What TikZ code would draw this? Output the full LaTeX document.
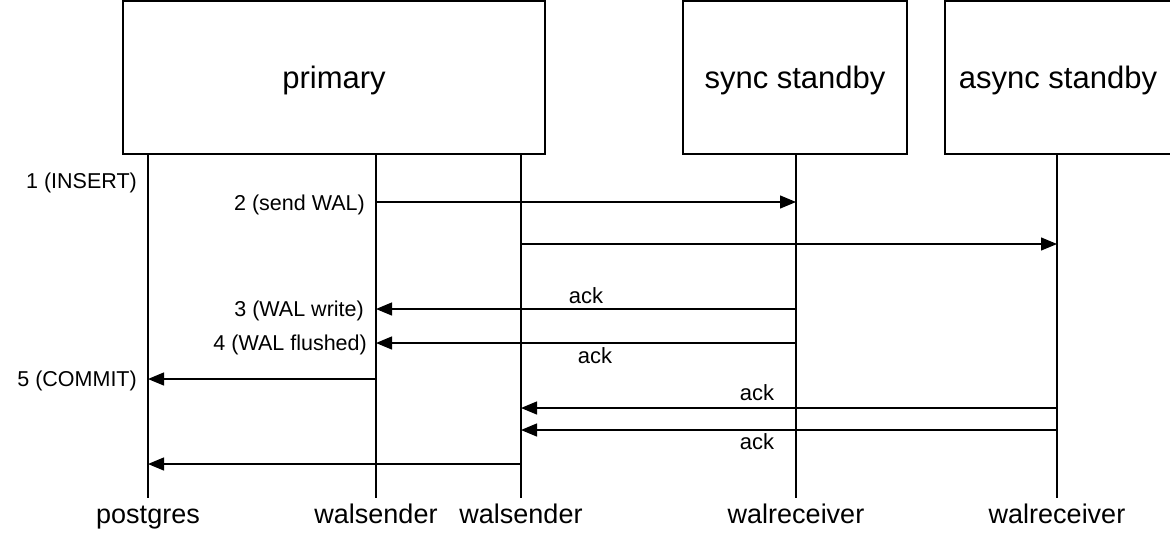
\documentclass[tikz,border=0pt]{standalone}
\usepackage{fontspec}
\setmainfont{Liberation Sans}
\usetikzlibrary{calc}
\usetikzlibrary{arrows.meta}

\begin{document}
\begin{tikzpicture}[x=1pt,y=-1pt,
	box/.style={draw, line width=1.6pt, inner sep=0pt, text depth=0pt, font=\fontsize{31}{36}\selectfont},
	life/.style={line width=1.3pt},
	msg/.style={line width=1.3pt, -{Triangle[length=16pt,width=13pt]}},
	lbl/.style={inner sep=0pt, anchor=base east, font=\fontsize{21.5}{26}\selectfont},
	ack/.style={inner sep=0pt, anchor=base, font=\fontsize{22}{26}\selectfont},
	proc/.style={inner sep=0pt, anchor=base, font=\fontsize{27}{31}\selectfont}]

\useasboundingbox (0,0) rectangle (1170,542);

\node[box, minimum width=422pt, minimum height=153pt] (primary) at (334,77.5) {primary};
\node[box, minimum width=224pt, minimum height=153pt] (sync) at (795,77.5) {sync standby};
\node[box, minimum width=226pt, minimum height=153pt] (async) at (1058,77.5) {async standby};

\foreach \n/\x/\t in {pg/148/postgres, wsa/376/walsender, wsb/521/walsender, wra/796/walreceiver, wrb/1057/walreceiver}{
	\node[proc] (\n) at (\x,523) {\t};
	\coordinate (\n top) at (\x,155);
	\coordinate (\n end) at (\x,498);
	\draw[life] (\n top) -- (\n end);
}

\node[lbl] (insert) at (137,188) {1 (INSERT)};
\node[lbl] (send) at (365,210) {2 (send WAL)};
\node[lbl] (write) at (364,316) {3 (WAL write)};
\node[lbl] (flush) at (367,350) {4 (WAL flushed)};
\node[lbl] (commit) at (137,386) {5 (COMMIT)};

\draw[msg] (wsa |- 0,202) -- (wra |- 0,202);
\draw[msg] (wsb |- 0,244) -- (wrb |- 0,244);
\draw[msg] (wra |- 0,309) -- (wsa |- 0,309);
\draw[msg] (wra |- 0,343) -- (wsa |- 0,343);
\draw[msg] (wsa |- 0,379) -- (pg |- 0,379);
\draw[msg] (wrb |- 0,408) -- (wsb |- 0,408);
\draw[msg] (wrb |- 0,430) -- (wsb |- 0,430);
\draw[msg] (wsb |- 0,464) -- (pg |- 0,464);

\node[ack] (ack1) at (586,303) {ack};
\node[ack] (ack2) at (595,363) {ack};
\node[ack] (ack3) at (757,400) {ack};
\node[ack] (ack4) at (757,449) {ack};

\end{tikzpicture}
\end{document}
